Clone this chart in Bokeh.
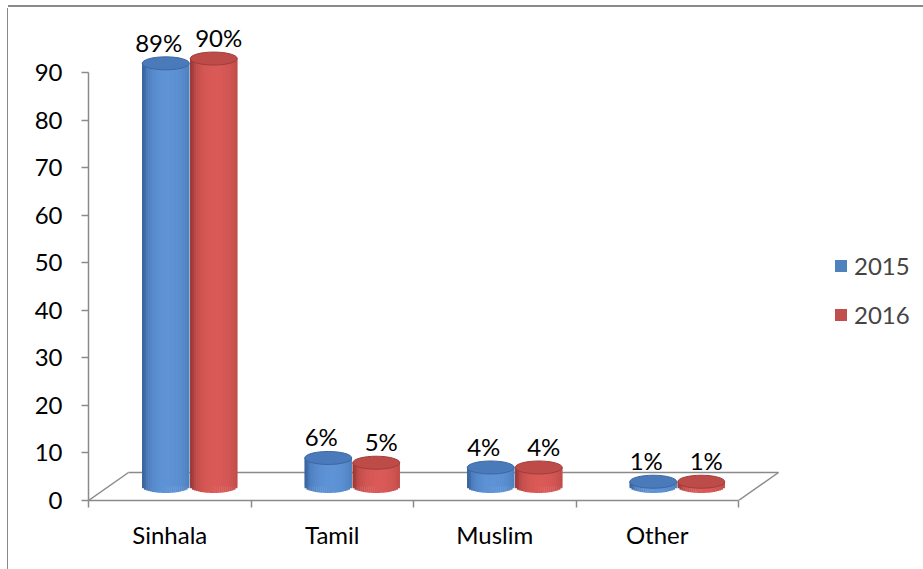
import numpy as np
from bokeh.plotting import figure
from bokeh.models import Range1d, FixedTicker, LabelSet, ColumnDataSource, Legend, LegendItem
from bokeh.embed import file_html
from bokeh.resources import INLINE
from bokeh.core.properties import value

# ---------------- data ----------------
categories = ["Sinhala", "Tamil", "Muslim", "Other"]
series_names = ["2015", "2016"]
values_2015 = [89, 6, 4, 1]
values_2016 = [90, 5, 4, 1]
labels_2015 = ["89%", "6%", "4%", "1%"]
labels_2016 = ["90%", "5%", "4%", "1%"]
y_ticks = [0, 10, 20, 30, 40, 50, 60, 70, 80, 90]

# ---------------- layout / style ----------------
FONT = "Lato"
FS = "24px"
W, H = 915, 561
LEFT, TOP, BOTTOM = 80, 7, 69
PX_X = 162.5                      # px per category
FRAME_W = W - LEFT
FRAME_H = H - TOP - BOTTOM
X_END = FRAME_W / PX_X
Y_END = 102.0
PX_Y = FRAME_H / Y_END
AXIS_COLOR = "#8a8a8a"

n = len(categories)
DX = 40 / PX_X                    # 3-D depth offsets
DY = 28 / PX_Y
CW = 47 / PX_X                    # cylinder width
DODGE = 24 / PX_X
EH = 13                           # ellipse height (px)
NSTRIP = 24

p = figure(width=W, height=H, x_range=Range1d(0, X_END), y_range=Range1d(0, Y_END),
           output_backend="svg", toolbar_location=None,
           min_border_left=LEFT, min_border_right=0, min_border_top=TOP,
           min_border_bottom=BOTTOM)
p.outline_line_color = None
p.xgrid.visible = False
p.ygrid.visible = False
p.background_fill_color = "white"
p.border_fill_color = "white"
p.styles = {"margin-left": "8px", "margin-top": "8px",
            "box-shadow": "0 -1px 0 0 #ffffff, 0 -3px 0 0 #8a8a8a, -1px 0 0 0 #8a8a8a"}

# floor outline (3-D base)
floor_xs = [[0, DX], [DX, n + DX], [n, n + DX]]
floor_ys = [[0, DY], [DY, DY], [0, DY]]
p.multi_line(floor_xs, floor_ys, line_color=AXIS_COLOR, line_width=1.5)


def hexmix(c1, c2, t):
    a = [int(c1[i:i + 2], 16) for i in (1, 3, 5)]
    b = [int(c2[i:i + 2], 16) for i in (1, 3, 5)]
    return "#%02x%02x%02x" % tuple(int(round(a[k] + (b[k] - a[k]) * t)) for k in range(3))


def cylinders(vals, offset, base, edge, hi, cap, capline):
    centers = [i + 0.5 + DX / 2 + offset for i in range(n)]
    tops = [v + DY / 2 for v in vals]
    body = p.vbar(x=centers, width=CW, bottom=DY / 2, top=tops,
                  fill_color=base, line_color=None)
    sx, sw, sb, st, sc = [], [], [], [], []
    for c, t in zip(centers, tops):
        for j in range(NSTRIP):
            u = -1 + (2 * j + 1) / NSTRIP
            b = np.sqrt(max(0.0, 1 - (u - 0.12) ** 2))
            sx.append(c + u * CW / 2)
            sw.append(CW / NSTRIP * 1.2)
            sb.append(DY / 2 - (EH / 2 * np.sqrt(max(0.0, 1 - u * u))) / PX_Y)
            st.append(t)
            sc.append(hexmix(edge, hi, b ** 0.8))
    p.vbar(x=sx, width=sw, bottom=sb, top=st, fill_color=sc, line_color=None)
    p.ellipse(x=centers, y=tops, width=CW, height=EH, height_units="screen",
              fill_color=cap, line_color=capline, line_width=1)
    return body, centers, tops


red_body, red_c, red_t = cylinders(values_2016, DODGE, "#c0504d", "#9c3a38", "#da5a57", "#bd4c49", "#9f3d3b")
blue_body, blue_c, blue_t = cylinders(values_2015, -DODGE, "#4f81bd", "#3a659f", "#5e93d6", "#4a7aba", "#3c67a2")

# data labels
src15 = ColumnDataSource(dict(x=blue_c, y=blue_t, t=labels_2015))
src16 = ColumnDataSource(dict(x=red_c, y=red_t, t=labels_2016))
for src, xo in ((src15, -7), (src16, 5)):
    p.add_layout(LabelSet(x="x", y="y", text="t", source=src, x_offset=xo, y_offset=21,
                          text_align="center", text_baseline="middle",
                          text_font=value(FONT), text_font_size=FS, text_color="black"))

# axes
p.yaxis.ticker = FixedTicker(ticks=y_ticks)
p.yaxis.bounds = (0, 90)
p.yaxis.major_tick_out = 7
p.yaxis.major_tick_in = 0
p.yaxis.minor_tick_out = 0
p.yaxis.minor_tick_in = 0
p.yaxis.major_label_standoff = 19
p.yaxis.axis_line_color = AXIS_COLOR
p.yaxis.axis_line_width = 1.5
p.yaxis.major_tick_line_color = AXIS_COLOR
p.yaxis.major_tick_line_width = 1.5
p.yaxis.major_label_text_font = FONT
p.yaxis.major_label_text_font_size = FS
p.yaxis.major_label_text_color = "black"

centers_x = [i + 0.5 for i in range(n)]
p.xaxis.ticker = FixedTicker(ticks=centers_x, minor_ticks=list(range(n + 1)))
p.xaxis.major_label_overrides = {c: name for c, name in zip(centers_x, categories)}
p.xaxis.bounds = (0, n)
p.xaxis.major_tick_out = 0
p.xaxis.major_tick_in = 0
p.xaxis.minor_tick_out = 7
p.xaxis.minor_tick_in = 0
p.xaxis.major_label_standoff = 12
p.xaxis.axis_line_color = AXIS_COLOR
p.xaxis.axis_line_width = 1.5
p.xaxis.minor_tick_line_color = AXIS_COLOR
p.xaxis.minor_tick_line_width = 1.5
p.xaxis.major_label_text_font = FONT
p.xaxis.major_label_text_font_size = FS
p.xaxis.major_label_text_color = "black"

legend = Legend(items=[LegendItem(label=series_names[0], renderers=[blue_body]),
                       LegendItem(label=series_names[1], renderers=[red_body])],
                location=(745, 171), glyph_width=15, glyph_height=15, label_standoff=6,
                spacing=20, padding=0, margin=0, border_line_color=None,
                background_fill_alpha=0, label_text_font=FONT, label_text_font_size=FS)
p.add_layout(legend)

open("out.html", "w").write(file_html(p, INLINE))
